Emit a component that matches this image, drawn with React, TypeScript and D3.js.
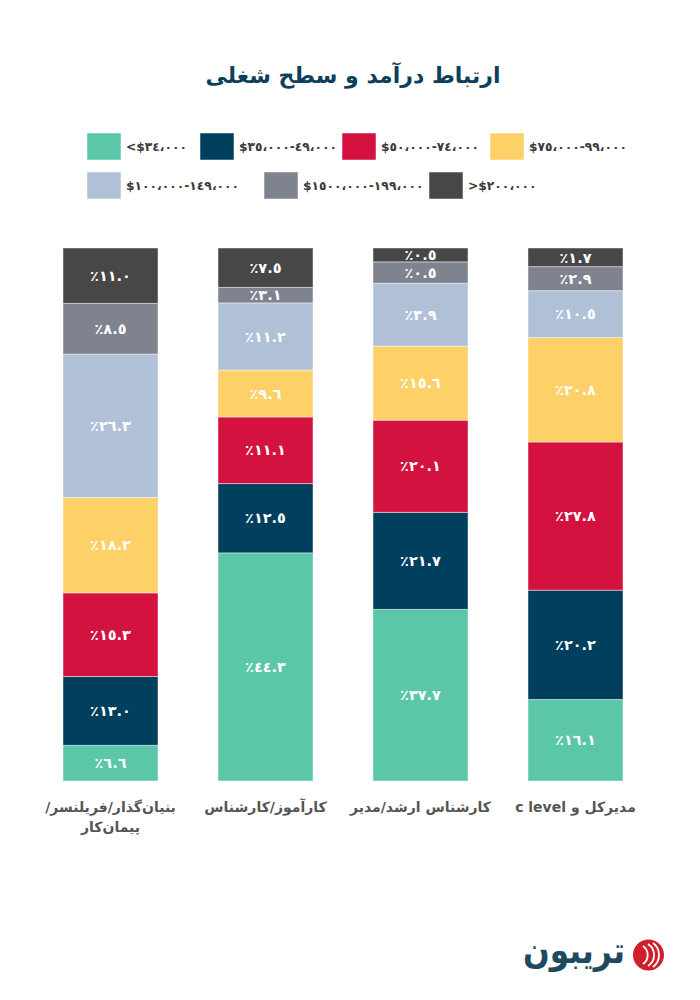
import React from 'react';
import * as d3 from 'd3';

// Categories (left to right), each as lines of text
const categoryLines: string[][] = [
  ['بنیان‌گذار/فریلنسر/', 'پیمان‌کار'],
  ['کارآموز/کارشناس'],
  ['کارشناس ارشد/مدیر'],
  ['مدیرکل و c level'],
];

// Segment sizes (share of bar), per income bracket, per category
const under35 = [6.7, 42.8, 32.2, 15.3];
const r35to49 = [12.9, 13.0, 18.2, 20.5];
const r50to74 = [15.7, 12.5, 17.3, 27.8];
const r75to99 = [17.9, 8.8, 13.9, 19.6];
const r100to149 = [26.9, 12.6, 11.8, 8.8];
const r150to199 = [9.5, 2.9, 4.0, 4.5];
const over200 = [10.4, 7.4, 2.6, 3.5];

// Printed labels on the segments
const under35Lbl = [6.6, 44.3, 37.7, 16.1];
const r35to49Lbl = [13.0, 12.5, 21.7, 20.2];
const r50to74Lbl = [15.3, 11.1, 20.1, 27.8];
const r75to99Lbl = [18.2, 9.6, 15.6, 20.8];
const r100to149Lbl = [26.3, 11.2, 3.9, 10.5];
const r150to199Lbl = [8.5, 3.1, 0.5, 2.9];
const over200Lbl = [11.0, 7.5, 0.5, 1.7];

const seriesKeys = ['u35', 'r35', 'r50', 'r75', 'r100', 'r150', 'o200'];
const legendLabels = [
  '<$٣٤،٠٠٠',
  '$٣٥،٠٠٠-٤٩،٠٠٠',
  '$٥٠،٠٠٠-٧٤،٠٠٠',
  '$٧٥،٠٠٠-٩٩،٠٠٠',
  '$١٠٠،٠٠٠-١٤٩،٠٠٠',
  '$١٥٠٠،٠٠٠-١٩٩،٠٠٠',
  '>$٢٠٠،٠٠٠',
];
const colors = ['#5cc7a8', '#013f5e', '#d31240', '#fdd068', '#b0c1d7', '#7e838f', '#474747'];

const title = 'ارتباط درآمد و سطح شغلی';
const logoText = 'تریبون';

const seriesValues = [under35, r35to49, r50to74, r75to99, r100to149, r150to199, over200];
const seriesLabels = [under35Lbl, r35to49Lbl, r50to74Lbl, r75to99Lbl, r100to149Lbl, r150to199Lbl, over200Lbl];

const toArabicDigits = (s: string) => s.replace(/[0-9]/g, (d) => '٠١٢٣٤٥٦٧٨٩'[+d]);
const fmtPct = (v: number) => '٪' + toArabicDigits(v.toFixed(1));
const rtl = (s: string) => '\u202B' + s + '\u202C';

const FONT = "'DejaVu Sans', sans-serif";

// legend layout
const legendRows = [
  { y: 133, xs: [87, 200, 342, 490], items: [0, 1, 2, 3] },
  { y: 172, xs: [87, 264, 429], items: [4, 5, 6] },
];

export default function App() {
  const width = 700;
  const height = 1000;

  const table = categoryLines.map((_, i) => {
    const row: any = { idx: i };
    seriesKeys.forEach((k, j) => (row[k] = seriesValues[j][i]));
    return row;
  });
  const stacked = d3.stack<any>().keys(seriesKeys)(table);

  const x = d3
    .scaleBand<number>()
    .domain(categoryLines.map((_, i) => i))
    .range([63, 623])
    .paddingInner(0.387)
    .paddingOuter(0);
  const y = d3.scaleLinear().domain([0, 100]).range([781, 248]);

  return (
    <svg
      width={width}
      height={height}
      style={{ position: 'absolute', left: 0, top: 0, background: '#fff' }}
      fontFamily={FONT}
    >
      <rect x={0} y={0} width={width} height={height} fill="#fff" />
      <text x={353} y={83} textAnchor="middle" fontSize={22} fontWeight="bold" fill="#0e3f5c">
        {rtl(title)}
      </text>

      {legendRows.map((row, ri) =>
        row.items.map((it, k) => (
          <g key={`lg-${ri}-${k}`} transform={`translate(${row.xs[k]},${row.y})`}>
            <rect width={34} height={27} fill={colors[it]} stroke="#ffffff" strokeOpacity={0.5} />
            <text
              x={39}
              y={18}
              fontSize={12.3}
              fontWeight="bold"
              fill="#3a3a3a"
              direction="ltr"
              unicodeBidi="bidi-override"
            >
              {legendLabels[it]}
            </text>
          </g>
        ))
      )}

      {stacked.map((s, si) => (
        <g key={seriesKeys[si]}>
          {s.map((d, ci) => {
            const x0 = x(ci) as number;
            const y0 = y(d[1]);
            const h = y(d[0]) - y(d[1]);
            return (
              <g key={ci}>
                <rect
                  x={x0}
                  y={y0}
                  width={x.bandwidth()}
                  height={h}
                  fill={colors[si]}
                  stroke="#ffffff"
                  strokeOpacity={0.45}
                  strokeWidth={1}
                />
                <text
                  x={x0 + x.bandwidth() / 2}
                  y={y0 + h / 2}
                  dy="0.36em"
                  textAnchor="middle"
                  fontSize={14.5}
                  fontWeight="bold"
                  fill="#ffffff"
                  direction="ltr"
                  unicodeBidi="bidi-override"
                >
                  {fmtPct(seriesLabels[si][ci])}
                </text>
              </g>
            );
          })}
        </g>
      ))}

      {categoryLines.map((lines, ci) => (
        <text
          key={`cat-${ci}`}
          x={(x(ci) as number) + x.bandwidth() / 2}
          y={812}
          textAnchor="middle"
          fontSize={14}
          fontWeight="bold"
          fill="#555555"
        >
          {lines.map((ln, li) => (
            <tspan key={li} x={(x(ci) as number) + x.bandwidth() / 2} dy={li === 0 ? 0 : 20}>
              {rtl(ln)}
            </tspan>
          ))}
        </text>
      ))}

      {/* logo */}
      <g>
        <text
          x={625}
          y={963}
          textAnchor="end"
          fontSize={36}
          fontWeight="bold"
          fill="#1d4a5e"
          textLength={102}
          lengthAdjust="spacingAndGlyphs"
        >
          {logoText}
        </text>
        <circle cx={648.5} cy={955} r={15.5} fill="#d0202e" />
        <path d="M 643 946 A 11 11 0 0 1 643 964" fill="none" stroke="#fff" strokeWidth={1.8} />
        <path d="M 648 944 A 13 13 0 0 1 648 966" fill="none" stroke="#fff" strokeWidth={1.8} />
        <path d="M 653 943 A 15 15 0 0 1 653 967" fill="none" stroke="#fff" strokeWidth={1.8} />
      </g>
    </svg>
  );
}
